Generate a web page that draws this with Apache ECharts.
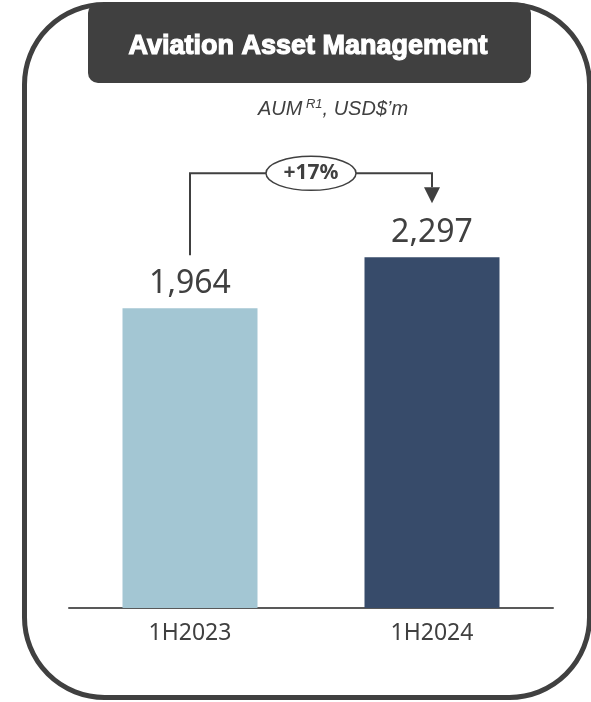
<!DOCTYPE html>
<html>
<head>
<meta charset="utf-8">
<script src="https://cdn.jsdelivr.net/npm/echarts@6/dist/echarts.min.js"></script>
<style>
  html, body { margin: 0; padding: 0; background: #fff; }
  #chart { width: 591px; height: 702px; }
</style>
</head>
<body>
<div id="chart"></div>
<script>
// data
const categories = ['1H2023', '1H2024'];
const aum = [1964, 2297];
const barColors = ['#A3C6D3', '#374B6A'];
const growthLabel = '+17%';

const dark = '#404040';
const chart = echarts.init(document.getElementById('chart'));

const option = {
    animation: false,
    grid: { left: 69, right: 38, top: 150, bottom: 94 },
    xAxis: {
        type: 'category',
        data: categories,
        axisLine: { lineStyle: { color: '#595959', width: 2 } },
        axisTick: { show: false },
        axisLabel: { color: dark, fontSize: 23, fontFamily: 'Noto Sans', margin: 14 }
    },
    yAxis: { type: 'value', min: 0, max: 3000, show: false },
    series: [{
        type: 'bar',
        barWidth: 135,
        data: aum.map((v, i) => ({ value: v, itemStyle: { color: barColors[i] } })),
        label: {
            show: true,
            position: 'top',
            distance: 8,
            color: dark,
            fontSize: 32,
            fontFamily: 'Noto Sans',
            formatter: p => p.value.toLocaleString('en-US')
        }
    }],
    graphic: [
        {
            type: 'rect', z: 1,
            shape: { x: 24.5, y: 4.5, width: 565, height: 693, r: 80 },
            style: { fill: 'none', stroke: dark, lineWidth: 5 }
        },
        {
            type: 'rect', z: 2,
            shape: { x: 88, y: 3, width: 443, height: 80, r: 10 },
            style: { fill: dark }
        },
        {
            type: 'text', z: 3, x: 308, y: 47,
            style: {
                text: 'Aviation Asset Management',
                fill: '#fff', fontSize: 27, fontWeight: 'bold',
                fontFamily: 'Liberation Sans, Arial',
                stroke: '#fff', lineWidth: 1.2,
                align: 'center', verticalAlign: 'middle'
            }
        },
        {
            type: 'text', z: 3, x: 333, y: 109,
            style: {
                text: '{a|AUM}{s| R1}{a|, USD$\u2019m}',
                align: 'center', verticalAlign: 'middle',
                rich: {
                    a: { fontSize: 20, fontStyle: 'italic', fill: dark, fontFamily: 'Liberation Sans, Arial' },
                    s: { fontSize: 13, fontStyle: 'italic', fill: dark, fontFamily: 'Liberation Sans, Arial', verticalAlign: 'top', padding: [0, 0, 9, 0] }
                }
            }
        }
    ]
};
chart.setOption(option);

// growth connector, placed from the bar tops
const p1 = chart.convertToPixel({ seriesIndex: 0 }, [0, aum[0]]);
const p2 = chart.convertToPixel({ seriesIndex: 0 }, [1, aum[1]]);
const topY = p2[1] - 84;
const arrowStart = p2[1] - 70;
const arrowEnd = p2[1] - 54;
const midX = (p1[0] + p2[0]) / 2;

chart.setOption({
    graphic: option.graphic.concat([
        {
            type: 'polyline', z: 4,
            shape: { points: [[p1[0], p1[1] - 53], [p1[0], topY], [p2[0], topY], [p2[0], arrowStart]] },
            style: { stroke: dark, lineWidth: 2, fill: 'none' }
        },
        {
            type: 'polygon', z: 4,
            shape: { points: [[p2[0] - 8, arrowStart], [p2[0] + 8, arrowStart], [p2[0], arrowEnd]] },
            style: { fill: dark }
        },
        {
            type: 'ellipse', z: 5,
            shape: { cx: midX, cy: topY, rx: 45, ry: 17 },
            style: { fill: '#fff', stroke: dark, lineWidth: 1.5 }
        },
        {
            type: 'text', z: 6, x: midX, y: topY,
            style: {
                text: growthLabel, fill: dark, fontSize: 21, fontWeight: 'bold',
                fontFamily: 'Noto Sans', align: 'center', verticalAlign: 'middle'
            }
        }
    ])
});
</script>
</body>
</html>
